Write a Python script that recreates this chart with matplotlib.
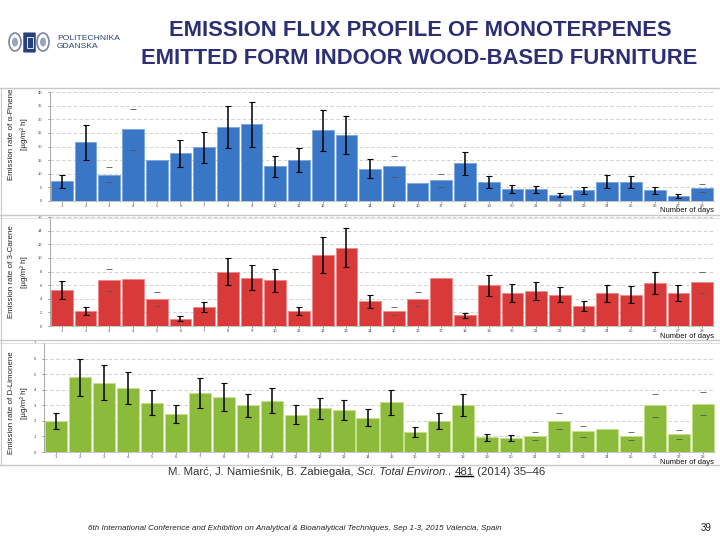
import matplotlib
matplotlib.use("Agg")
import matplotlib.pyplot as plt
from matplotlib.patches import Rectangle, FancyBboxPatch, Ellipse
from matplotlib.lines import Line2D

plt.rcParams['font.family'] = ['Liberation Sans', 'DejaVu Sans']

days = list(range(1, 29))
day_labels = [str(d) for d in days]

pinene = [7.2, 21.6, 9.7, 26.3, 14.9, 17.5, 19.7, 27.0, 28.1, 12.7, 14.9, 25.9, 24.1, 11.9,
          12.7, 6.6, 7.6, 13.8, 6.9, 4.4, 4.3, 2.1, 3.9, 7.1, 6.9, 3.9, 1.7, 4.8]
pinene_err = [2.3, 6.4, 2.9, 7.6, 0, 5.0, 5.7, 7.7, 8.2, 3.8, 4.4, 7.5, 7.0, 3.4,
              3.8, 0, 2.3, 4.2, 2.1, 1.3, 1.2, 0.7, 1.4, 2.3, 2.1, 1.4, 0.7, 1.35]
pinene_caps_only = [3, 4, 15, 17, 28]

carene = [5.3, 2.2, 6.7, 6.9, 4.0, 1.1, 2.8, 8.0, 7.1, 6.7, 2.2, 10.4, 11.5, 3.6,
          2.2, 4.0, 7.0, 1.6, 6.0, 4.8, 5.1, 4.6, 2.9, 4.8, 4.6, 6.3, 4.8, 6.4]
carene_err = [1.3, 0.55, 1.6, 0, 1.05, 0.35, 0.7, 2.0, 1.8, 1.7, 0.55, 2.6, 2.9, 0.95,
              0.55, 1.05, 0, 0.37, 1.55, 1.3, 1.3, 1.15, 0.75, 1.25, 1.2, 1.6, 1.2, 1.6]
carene_caps_only = [3, 5, 15, 16, 28]

limonene = [2.0, 4.8, 4.45, 4.1, 3.15, 2.45, 3.8, 3.55, 3.0, 3.3, 2.4, 2.8, 2.7, 2.2,
            3.2, 1.3, 2.0, 3.0, 0.95, 0.9, 1.0, 2.0, 1.33, 1.5, 1.0, 3.0, 1.13, 3.1]
limonene_err = [0.5, 1.18, 1.12, 1.03, 0.8, 0.6, 0.95, 0.9, 0.74, 0.82, 0.62, 0.68, 0.67, 0.54,
                0.8, 0.32, 0.5, 0.72, 0.22, 0.22, 0.26, 0.5, 0.36, 0, 0.26, 0.73, 0.28, 0.75]
limonene_caps_only = [21, 22, 23, 25, 26, 27, 28]

panels = [
    dict(vals=pinene, err=pinene_err, caps=pinene_caps_only, ymax=40, step=5,
         color='#3a76c6', edge='#7fa8de', label='Emission rate of α-Pinene',
         rect=(50, 92, 714, 201), lab_y=134),
    dict(vals=carene, err=carene_err, caps=carene_caps_only, ymax=16, step=2,
         color='#d83a3a', edge='#ee8a8a', label='Emission rate of 3-Carene',
         rect=(50, 217, 714, 326), lab_y=272),
    dict(vals=limonene, err=limonene_err, caps=limonene_caps_only, ymax=7, step=1,
         color='#8cba3a', edge='#c6e08e', label='Emission rate of D-Limonene',
         rect=(44, 343, 715, 452), lab_y=403),
]

W, H = 720, 540
fig = plt.figure(figsize=(7.2, 5.4), dpi=100)
fig.patch.set_facecolor('white')

def fx(x):
    return x / W

def fy(y):
    return 1 - y / H

# frame lines between panel images
for yy in [88, 215, 340, 465]:
    fig.add_artist(Line2D([fx(0), fx(720)], [fy(yy), fy(yy)], color='#c8c8c8', lw=1.0))
for yy in [217.5, 342.5]:
    fig.add_artist(Line2D([fx(0), fx(720)], [fy(yy), fy(yy)], color='#dcdcdc', lw=0.6))
fig.add_artist(Line2D([fx(1), fx(1)], [fy(88), fy(465)], color='#c8c8c8', lw=0.8))

for p in panels:
    l, t, r, b = p['rect']
    ax = fig.add_axes([fx(l), fy(b), fx(r - l), (b - t) / H])
    vals = p['vals']
    ax.bar(days, vals, width=0.92, color=p['color'], edgecolor=p['edge'], linewidth=0.7, zorder=2)
    full_x = [d for d, e in zip(days, p['err']) if e > 0 and d not in p['caps']]
    full_y = [v for d, v, e in zip(days, vals, p['err']) if e > 0 and d not in p['caps']]
    full_e = [e for d, e in zip(days, p['err']) if e > 0 and d not in p['caps']]
    ax.errorbar(full_x, full_y, yerr=full_e, fmt='none', ecolor='black', elinewidth=1.1,
                capsize=2.0, capthick=0.8, zorder=3)
    cap_x = [d for d in p['caps']]
    cap_y = [vals[d - 1] for d in p['caps']]
    cap_e = [p['err'][d - 1] for d in p['caps']]
    ax.errorbar(cap_x, cap_y, yerr=cap_e, fmt='none', ecolor='#555555', elinewidth=0,
                capsize=2.5, capthick=0.6, zorder=3)
    ax.set_xlim(0.5, 28.5)
    ax.set_ylim(0, p['ymax'])
    ax.set_yticks(range(0, p['ymax'] + 1, p['step']))
    ax.set_xticks(days)
    ax.set_xticklabels(day_labels)
    ax.tick_params(axis='both', labelsize=3, colors='#444444', length=1.5, width=0.4, pad=1.0)
    ax.tick_params(axis='y', pad=4)
    ax.yaxis.grid(True, linestyle=(0, (4, 3)), color='#c8c8c8', linewidth=0.6, zorder=0)
    ax.set_axisbelow(True)
    for s in ['top', 'right']:
        ax.spines[s].set_visible(False)
    ax.spines['left'].set_color('#999999')
    ax.spines['left'].set_linewidth(0.6)
    ax.spines['bottom'].set_color('#bbbbbb')
    ax.spines['bottom'].set_linewidth(0.6)
    cy = p['lab_y']
    fig.text(fx(12), fy(cy), p['label'], rotation=90, ha='center', va='center', fontsize=5.8,
             color='#222222')
    fig.text(fx(24), fy(cy), '[µg/m² h]', rotation=90, ha='center', va='center', fontsize=5.8,
             color='#222222')
    fig.text(fx(714), fy(b + 10), 'Number of days', ha='right', va='center', fontsize=5.5,
             color='#111111')

# title
navy = '#2c2f74'
fig.text(fx(420), fy(31), 'EMISSION FLUX PROFILE OF MONOTERPENES', ha='center', va='center',
         fontsize=15.8, fontweight='bold', color=navy)
fig.text(fx(419), fy(58), 'EMITTED FORM INDOOR WOOD-BASED FURNITURE', ha='center', va='center',
         fontsize=15.8, fontweight='bold', color=navy)

# logo
for xx in [15, 43]:
    fig.add_artist(Ellipse((fx(xx), fy(42)), fx(12), 18 / H, facecolor='none',
                           edgecolor='#7a85a8', lw=1.2))
    fig.add_artist(Ellipse((fx(xx), fy(42)), fx(6), 9 / H, facecolor='#9aa3bf',
                           edgecolor='none'))
fig.add_artist(FancyBboxPatch((fx(24), fy(52)), fx(11), 19 / H, boxstyle='round,pad=0.001',
                              facecolor='#27407a', edgecolor='none'))
fig.add_artist(Rectangle((fx(26.5), fy(48)), fx(6), 11 / H, facecolor='none',
                         edgecolor='white', lw=0.6))
fig.text(fx(57), fy(38), 'POLITECHNIKA', ha='left', va='center', fontsize=6.1, color='#27407a')
fig.text(fx(57), fy(47), 'GDANSKA', ha='left', va='center', fontsize=6.1, color='#27407a')

# citation with italic and underlined parts
cax = fig.add_axes([0, 0, 1, 1])
cax.set_axis_off()
cite_color = '#333333'
pieces = [('M. Marć, J. Namieśnik, B. Zabiegała, ', 'normal'),
          ('Sci. Total Environ.', 'italic'),
          (', ', 'normal'),
          ('481', 'normal'),
          (' (2014) 35–46', 'normal')]
prev = cax.text(fx(168), fy(472), pieces[0][0], ha='left', va='center', fontsize=8.2,
                color=cite_color, transform=cax.transAxes)
arts = [prev]
for txt, st in pieces[1:]:
    a = cax.annotate(txt, xy=(1, 0), xycoords=prev, ha='left', va='bottom', fontsize=8.2,
                     style=st, color=cite_color)
    arts.append(a)
    prev = a
fig.canvas.draw()
r = fig.canvas.get_renderer()
bb = arts[3].get_window_extent(r)
bb0 = arts[0].get_window_extent(r)
inv = fig.transFigure.inverted()
(x0, _), (x1, _) = inv.transform([(bb.x0, bb.y0), (bb.x1, bb.y0)])
_, yb = inv.transform((bb0.x0, bb0.y0))
fig.add_artist(Line2D([x0 + 0.001, x1 - 0.001], [yb + 0.001, yb + 0.001], color='black', lw=1.0))

# footer
fig.text(fx(88), fy(528), '6th International Conference and Exhibition on Analytical & Bioanalytical '
         'Techniques, Sep 1-3, 2015 Valencia, Spain', ha='left', va='center', fontsize=5.8,
         style='italic', color='#222222')
fig.text(fx(712), fy(528), '39', ha='right', va='center', fontsize=7, color='#222222')

fig.savefig('out.png', dpi=100, facecolor='white')
